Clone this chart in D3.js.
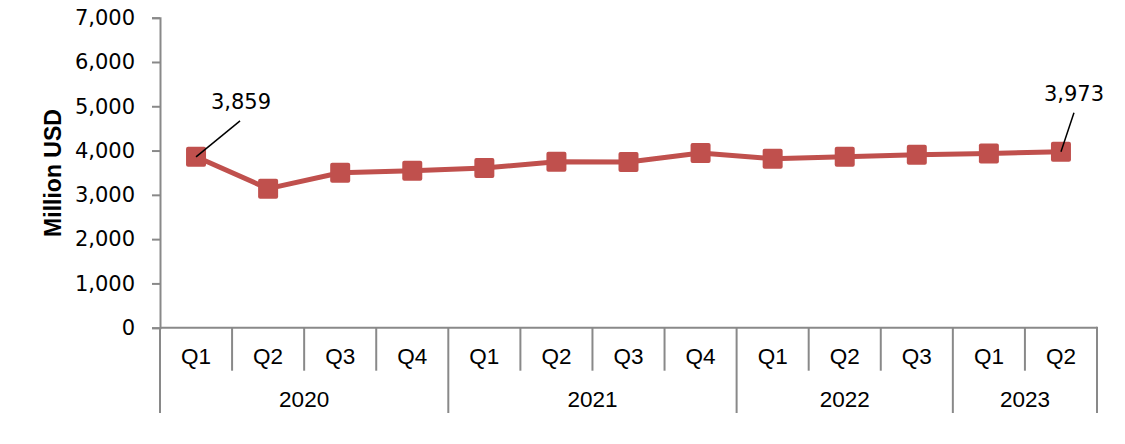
<!DOCTYPE html>
<html><head><meta charset="utf-8">
<script src="https://cdn.jsdelivr.net/npm/d3@7"></script>
<style>
html,body{margin:0;padding:0;background:#fff;}
svg{display:block;}
</style></head>
<body>
<svg id="chart" width="1125" height="444"></svg>
<script>
const quarters = ["Q1","Q2","Q3","Q4","Q1","Q2","Q3","Q4","Q1","Q2","Q3","Q1","Q2"];
const years = ["2020","2020","2020","2020","2021","2021","2021","2021","2022","2022","2022","2023","2023"];
const values = [3859,3140,3500,3545,3605,3745,3740,3945,3815,3860,3905,3935,3973];
const yTicks = [0,1000,2000,3000,4000,5000,6000,7000];
const labeledIdx = [0,12];
const yTitle = "Million USD";

(function(){
const svg = d3.select("#chart");
const axisColor = "#898989";
const lineColor = "#C0504D";
const pLeft = 160, pRight = 1097, pTop = 17.7, pBottom = 327.7;

const keys = quarters.map((q,i)=>i);
const x = d3.scaleBand().domain(keys).range([pLeft,pRight]).padding(0);
const y = d3.scaleLinear().domain([0,7000]).range([pBottom,pTop]);

// Y axis
const yAxis = d3.axisLeft(y).tickValues(yTicks).tickSize(8).tickPadding(17).tickFormat(d3.format(","));
const gy = svg.append("g").attr("transform",`translate(${pLeft},0)`).call(yAxis);
gy.select(".domain").attr("stroke",axisColor).attr("stroke-width",2);
gy.selectAll(".tick line").attr("stroke",axisColor).attr("stroke-width",2);
gy.selectAll(".tick text").attr("font-family","DejaVu Sans, Verdana, sans-serif").attr("font-size",21).attr("fill","#000");

// Y title
svg.append("text").attr("transform",`translate(61,173) rotate(-90)`)
  .attr("text-anchor","middle").attr("font-family","Liberation Sans, Arial, sans-serif")
  .attr("font-weight","bold").attr("font-size",23).attr("fill","#000").text(yTitle);

// X axis baseline
svg.append("line").attr("x1",pLeft).attr("x2",pRight).attr("y1",pBottom).attr("y2",pBottom)
  .attr("stroke",axisColor).attr("stroke-width",2);

// quarter separators
const qBottom = 370.7, yrBottom = 413;
keys.forEach(i=>{
  const xb = x(i);
  const isYearStart = i===0 || years[i]!==years[i-1];
  svg.append("line").attr("x1",xb).attr("x2",xb).attr("y1",pBottom).attr("y2",isYearStart?yrBottom:qBottom)
    .attr("stroke",axisColor).attr("stroke-width",2);
});
svg.append("line").attr("x1",pRight).attr("x2",pRight).attr("y1",pBottom-1).attr("y2",yrBottom)
  .attr("stroke",axisColor).attr("stroke-width",2);

// quarter labels
svg.append("g").selectAll("text").data(keys).join("text")
  .attr("x",i=>x(i)+x.bandwidth()/2).attr("y",356)
  .attr("dy","0.35em").attr("text-anchor","middle")
  .attr("font-family","Liberation Sans, Arial, sans-serif").attr("font-size",22.5).attr("fill","#000")
  .text(i=>quarters[i]);

// year labels
const yearGroups = d3.groups(keys, i=>years[i]);
svg.append("g").selectAll("text").data(yearGroups).join("text")
  .attr("x",g=>(x(g[1][0]) + x(g[1][g[1].length-1]) + x.bandwidth())/2).attr("y",399)
  .attr("dy","0.35em").attr("text-anchor","middle")
  .attr("font-family","Liberation Sans, Arial, sans-serif").attr("font-size",22.5).attr("fill","#000")
  .text(g=>g[0]);

// line
const cx = i=>x(i)+x.bandwidth()/2;
svg.append("path").datum(keys)
  .attr("d", d3.line().x(i=>cx(i)).y(i=>y(values[i])))
  .attr("fill","none").attr("stroke",lineColor).attr("stroke-width",5).attr("stroke-linejoin","round");

// markers
svg.append("g").selectAll("rect").data(keys).join("rect")
  .attr("x",i=>cx(i)-10).attr("y",i=>y(values[i])-10).attr("width",20).attr("height",20)
  .attr("rx",2).attr("fill",lineColor);

// data labels with leader lines
const labelOffsets = {0:{lx:44,ly:-36,tx:45,ty:-55}, 12:{lx:13,ly:-39,tx:13,ty:-58}};
labeledIdx.forEach(i=>{
  const px = cx(i), py = y(values[i]);
  const o = labelOffsets[i];
  svg.append("line").attr("x1",px).attr("y1",py).attr("x2",px+o.lx).attr("y2",py+o.ly)
    .attr("stroke","#000").attr("stroke-width",1.5);
  svg.append("text").attr("x",px+o.tx).attr("y",py+o.ty).attr("dy","0.35em")
    .attr("text-anchor","middle").attr("font-family","DejaVu Sans, Verdana, sans-serif")
    .attr("font-size",21).attr("fill","#000").text(d3.format(",")(values[i]));
});
})();
</script>
</body></html>
